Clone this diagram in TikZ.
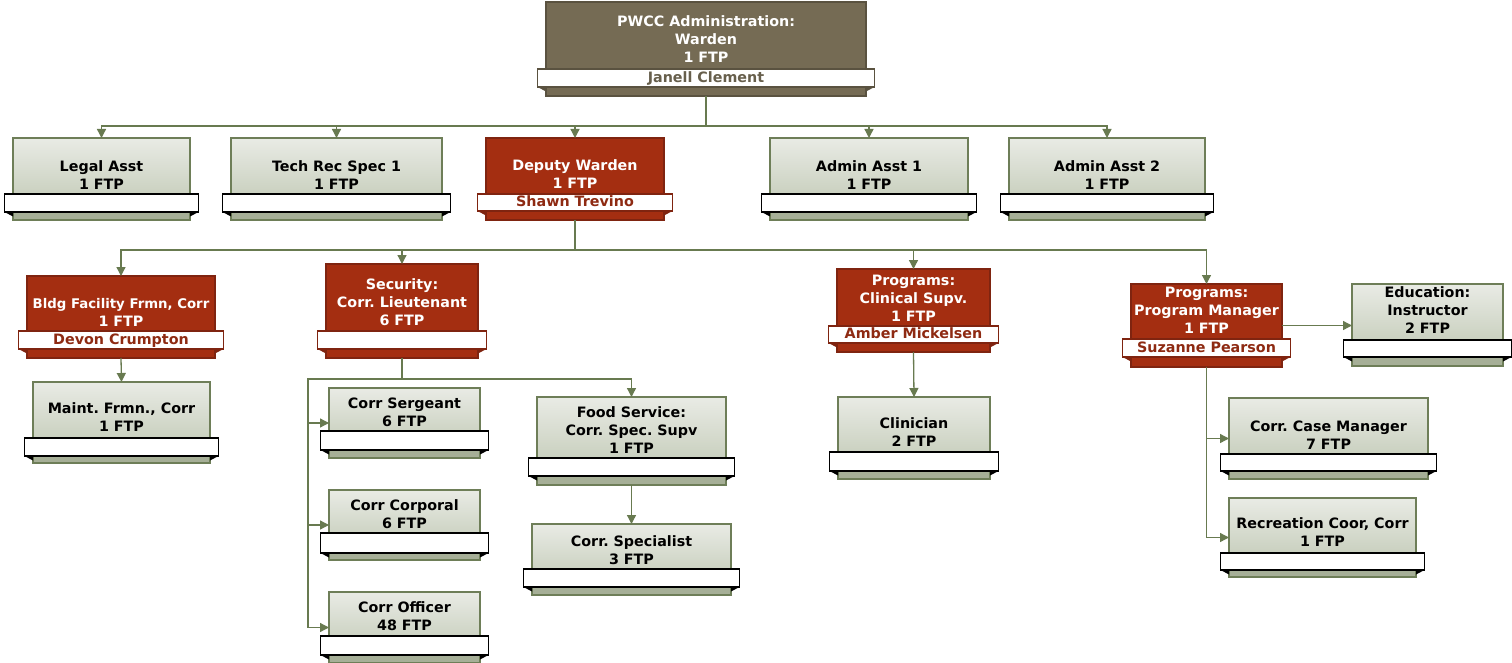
\documentclass[tikz,border=0pt]{standalone}
\usepackage{fontspec}
\setmainfont{DejaVu Sans}
\usetikzlibrary{arrows.meta}
\frenchspacing
\definecolor{brownfill}{HTML}{756B54}
\definecolor{brownline}{HTML}{5A5240}
\definecolor{brownname}{HTML}{675F4C}
\definecolor{redfill}{HTML}{A42E11}
\definecolor{redline}{HTML}{7F2410}
\definecolor{redname}{HTML}{8E2A12}
\definecolor{gtop}{HTML}{E9EBE5}
\definecolor{gbot}{HTML}{BCC5AF}
\definecolor{glowc}{HTML}{A6AF97}
\definecolor{gline}{HTML}{6E7E58}
\definecolor{connc}{HTML}{687A50}
\newcommand\bxf{\fontsize{14.3}{18}\selectfont\bfseries}
\newcommand\bxs{\fontsize{13.3}{18}\selectfont\bfseries}
\tikzset{
  tight/.style={inner sep=0pt, outer sep=0pt},
  gshape/.style={tight, top color=gtop, bottom color=gbot},
  rshape/.style={tight, fill=redfill},
  bshape/.style={tight, fill=brownfill},
  glower/.style={fill=glowc},
  rlower/.style={fill=redfill},
  blower/.style={fill=brownfill},
  gedge/.style={draw=gline, line width=1.3pt},
  redge/.style={draw=redline, line width=1.1pt},
  bedge/.style={draw=brownline, line width=1.1pt},
  gbar/.style={tight, fill=white, draw=black, line width=1.6pt},
  rbar/.style={tight, fill=white, draw=redline, line width=1.3pt},
  bbar/.style={tight, fill=white, draw=brownline, line width=1.3pt},
  gfold/.style={fill=black},
  rfold/.style={fill=redline},
  bfold/.style={fill=brownline},
  gtxt/.style={tight, font=\bxf, text=black},
  rtxt/.style={tight, font=\bxf, text=white},
  btxt/.style={tight, font=\bxf, text=white},
  rname/.style={tight, font=\bxf, text=redname},
  bname/.style={tight, font=\bxf, text=brownname},
  plain/.style={draw=connc, line width=1.3pt},
  link/.style={draw=connc, line width=1.3pt, -{Triangle[length=9pt,width=9pt]}},
}
% name kind x1 x2 y1 y2 bartop barbottom
\newcommand\obox[8]{%
  \node[#2shape, anchor=north west, minimum width={(#4-#3)*1pt}, minimum height={(#6-#5)*1pt}] (#1) at (#3,#5) {};
  \fill[#2lower] (#3,#8) rectangle (#4,#6);
  \draw[#2edge] (#3,#5) rectangle (#4,#6);
  \fill[#2fold] (#3-8.5,#8) -- (#3,#8) -- (#3,#8+4.5) -- cycle;
  \fill[#2fold] (#4+8.5,#8) -- (#4,#8) -- (#4,#8+4.5) -- cycle;
  \node[#2bar, anchor=north west, minimum width={(#4-#3+17)*1pt}, minimum height={(#8-#7)*1pt}] (#1-bar) at (#3-8.5,#7) {};
}
% name kind baseline lines
\newcommand\otext[4]{\node[#2txt, anchor=base] (#1-txt) at (#1.north |- 0,#3) {\begin{tabular}[t]{@{}c@{}}#4\end{tabular}};}
\newcommand\oname[4]{\node[#2name, anchor=base] (#1-nm) at (#1.north |- 0,#3) {#4};}
\begin{document}
\begin{tikzpicture}[x=1pt,y=-1pt]
\useasboundingbox[fill=white] (0,0) rectangle (1512,663);

\obox{top}{b}{546}{866}{2}{96}{69}{87}
\otext{top}{b}{27}{PWCC Administration:\\Warden\\1 FTP}
\oname{top}{b}{82.5}{Janell Clement}

\obox{legal}{g}{13}{190}{138}{220}{194}{212}
\otext{legal}{g}{171.5}{Legal Asst\\1 FTP}
\obox{tech}{g}{231}{442}{138}{220}{194}{212}
\otext{tech}{g}{171.5}{Tech Rec Spec 1\\1 FTP}
\obox{dep}{r}{486}{664}{138}{220}{194}{211}
\otext{dep}{r}{170.5}{Deputy Warden\\1 FTP}
\oname{dep}{r}{206.5}{Shawn Trevino}
\obox{adm1}{g}{770}{968}{138}{220}{194}{212}
\otext{adm1}{g}{171.5}{Admin Asst 1\\1 FTP}
\obox{adm2}{g}{1009}{1205}{138}{220}{194}{212}
\otext{adm2}{g}{171.5}{Admin Asst 2\\1 FTP}

\obox{bldg}{r}{27}{215}{276}{358}{331}{349}
\otext{bldg}{r}{308}{\bxs Bldg Facility Frmn, Corr\\1 FTP}
\oname{bldg}{r}{344.5}{Devon Crumpton}
\obox{maint}{g}{33}{210}{382}{463}{438}{456}
\otext{maint}{g}{413}{Maint. Frmn., Corr\\1 FTP}
\obox{sec}{r}{326}{478}{264}{358}{331}{349}
\otext{sec}{r}{289}{Security:\\Corr. Lieutenant\\6 FTP}
\obox{serg}{g}{329}{480}{388}{458}{431}{450}
\otext{serg}{g}{408}{Corr Sergeant\\6 FTP}
\obox{corp}{g}{329}{480}{490}{560}{533}{553}
\otext{corp}{g}{510}{Corr Corporal\\6 FTP}
\obox{off}{g}{329}{480}{592}{663}{636}{655}
\otext{off}{g}{612}{Corr Officer\\48 FTP}
\obox{food}{g}{537}{726}{397}{485}{458}{476}
\otext{food}{g}{417}{Food Service:\\Corr. Spec. Supv\\1 FTP}
\obox{spec}{g}{532}{731}{524}{595}{569}{587}
\otext{spec}{g}{546}{Corr. Specialist\\3 FTP}
\obox{clin}{r}{837}{990}{269}{352}{326}{343}
\otext{clin}{r}{285}{Programs:\\Clinical Supv.\\1 FTP}
\oname{clin}{r}{338.5}{Amber Mickelsen}
\obox{clinc}{g}{838}{990}{397}{479}{452}{471}
\otext{clinc}{g}{428}{Clinician\\2 FTP}
\obox{pm}{r}{1131}{1282}{284}{367}{339}{357}
\otext{pm}{r}{297}{Programs:\\Program Manager\\1 FTP}
\oname{pm}{r}{352.5}{Suzanne Pearson}
\obox{edu}{g}{1352}{1503}{284}{366}{340}{357}
\otext{edu}{g}{297}{Education:\\Instructor\\2 FTP}
\obox{case}{g}{1229}{1428}{398}{479}{454}{471}
\otext{case}{g}{431}{Corr. Case Manager\\7 FTP}
\obox{rec}{g}{1229}{1416}{498}{577}{553}{570}
\otext{rec}{g}{528}{Recreation Coor, Corr\\1 FTP}

% connectors
\coordinate (b1) at (top.south |- 0,126);
\draw[plain] (top.south) -- (b1);
\foreach \c in {legal,tech,dep,adm1,adm2} \draw[link] (b1) -| (\c.north);

\coordinate (b2) at (dep.south |- 0,250);
\draw[plain] (dep.south) -- (b2);
\foreach \c in {bldg,sec,clin,pm} \draw[link] (b2) -| (\c.north);

\draw[link] (bldg.south) -- (maint.north);

\coordinate (b3) at (sec.south |- 0,379);
\coordinate (b3l) at (308,379);
\draw[plain] (sec.south) -- (b3) -- (b3l) -- (b3l |- off.west);
\foreach \c in {serg,corp,off} \draw[link] (b3l |- \c.west) -- (\c.west);
\draw[link] (b3) -| (food.north);
\draw[link] (food.south) -- (spec.north);

\draw[link] (clin.south) -- (clinc.north);

\draw[link] (pm.east) -- (pm.east -| edu.west);
\draw[plain] (pm.south) -- (pm.south |- rec.west);
\foreach \c in {case,rec} \draw[link] (pm.south |- \c.west) -- (\c.west);
\end{tikzpicture}
\end{document}
